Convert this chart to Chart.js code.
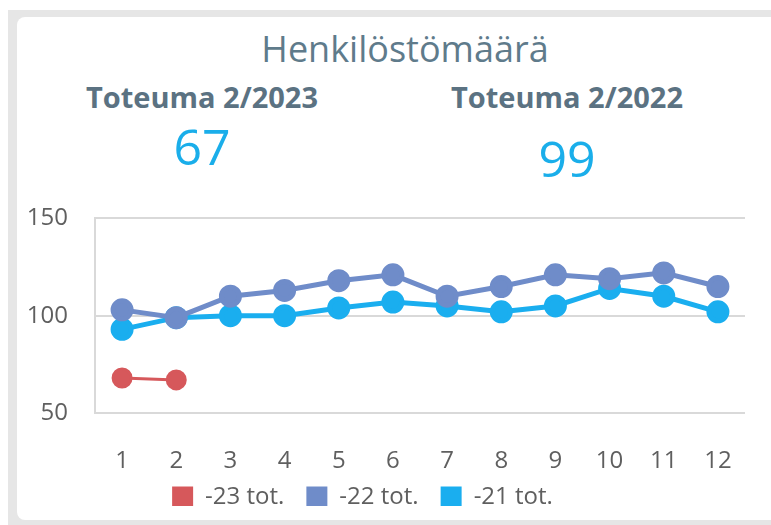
<!DOCTYPE html>
<html>
<head>
<meta charset="utf-8">
<script src="https://cdn.jsdelivr.net/npm/chart.js@4.4.0/dist/chart.umd.min.js"></script>
<style>
  html, body { margin: 0; padding: 0; background: #fff; }
  body { width: 771px; height: 525px; position: relative; overflow: hidden; font-family: "Open Sans", sans-serif; }
  #frame { position: absolute; left: 8px; top: 10px; width: 800px; height: 530px; background: #e6e6e6; }
  #card { position: absolute; left: 17px; top: 17px; width: 800px; height: 503px; background: #fff; border-top-left-radius: 8px; border-bottom-left-radius: 8px; }
  .txt { position: absolute; white-space: nowrap; transform: translateX(-50%); }
  #title { left: 405px; top: 24px; font-size: 36px; color: #5f7b8b; }
  .head { font-size: 29px; font-weight: bold; color: #5b7282; top: 77px; }
  .big { font-size: 50px; color: #1aaeea; }
  #chartBox { position: absolute; left: 0; top: 177px; width: 771px; height: 348px; }
</style>
</head>
<body>
<div id="frame"></div>
<div id="card"></div>
<div id="title" class="txt">Henkilöstömäärä</div>
<div class="txt head" style="left:202px">Toteuma 2/2023</div>
<div class="txt head" style="left:567px">Toteuma 2/2022</div>
<div class="txt big" style="left:202px; top:112px">67</div>
<div class="txt big" style="left:567px; top:124px">99</div>
<div id="chartBox"><canvas id="myChart"></canvas></div>
<script>
// Months on the x axis
const months = ["1", "2", "3", "4", "5", "6", "7", "8", "9", "10", "11", "12"];

// Headcount per month
const values2023 = [68, 67];
const values2022 = [103, 99, 110, 113, 118, 121, 110, 115, 121, 119, 122, 115];
const values2021 = [93, 99, 100, 100, 104, 107, 105, 102, 105, 114, 110, 102];

const seriesLabels = ["-23 tot.", "-22 tot.", "-21 tot."];
const yTicks = [50, 100, 150];

const colRed = "#d6585b";
const colMid = "#6f8cc9";
const colLight = "#1aaeef";

function lineSet(label, data, color, width) {
  return {
    label: label,
    data: data,
    borderColor: color,
    backgroundColor: color,
    pointBackgroundColor: color,
    pointBorderColor: color,
    borderWidth: width,
    pointRadius: 9,
    pointHoverRadius: 9,
    tension: 0,
  };
}

const tickFont = { family: "Open Sans", size: 24 };

// nudge the legend up/left a bit after layout (x tick labels need their full box)
const legendNudge = {
  id: "legendNudge",
  afterLayout(chart) {
    const lg = chart.legend;
    if (!lg) return;
    lg.top -= 13;
    lg.bottom -= 13;
    lg.left -= 10;
    lg.right -= 10;
  },
};

const ctx = document.getElementById("myChart").getContext("2d");
const myChart = new Chart(ctx, {
  type: "line",
  data: {
    labels: months,
    datasets: [
      lineSet(seriesLabels[0], values2023, colRed, 3),
      lineSet(seriesLabels[1], values2022, colMid, 5),
      lineSet(seriesLabels[2], values2021, colLight, 5),
    ],
  },
  plugins: [legendNudge],
  options: {
    responsive: true,
    maintainAspectRatio: false,
    animation: false,
    layout: { padding: { top: 4, right: 26, bottom: 6, left: 0 } },
    plugins: {
      tooltip: { enabled: false },
      legend: {
        position: "bottom",
        maxHeight: 43,
        labels: {
          boxWidth: 21,
          boxHeight: 21,
          padding: 22,
          color: "#5f5f5f",
          font: tickFont,
          generateLabels: (chart) =>
            chart.data.datasets.map((ds, i) => ({
              text: ds.label,
              fillStyle: ds.borderColor,
              strokeStyle: ds.borderColor,
              fontColor: "#5f5f5f",
              lineWidth: 0,
              datasetIndex: i,
            })),
        },
      },
    },
    scales: {
      x: {
        offset: true,
        afterFit: (scale) => { scale.height = 63; },
        grid: { display: false },
        border: { display: false },
        ticks: { color: "#5f5f5f", padding: 26, font: tickFont },
      },
      y: {
        min: 50,
        max: 150,
        afterFit: (scale) => { scale.width = 95; },
        afterBuildTicks: (scale) => { scale.ticks = yTicks.map((v) => ({ value: v })); },
        grid: { color: "#d9d9d9", lineWidth: 2, drawTicks: false },
        border: { display: true, color: "#d9d9d9", width: 2 },
        ticks: { color: "#5f5f5f", padding: 27, font: tickFont },
      },
    },
  },
});
</script>
</body>
</html>
